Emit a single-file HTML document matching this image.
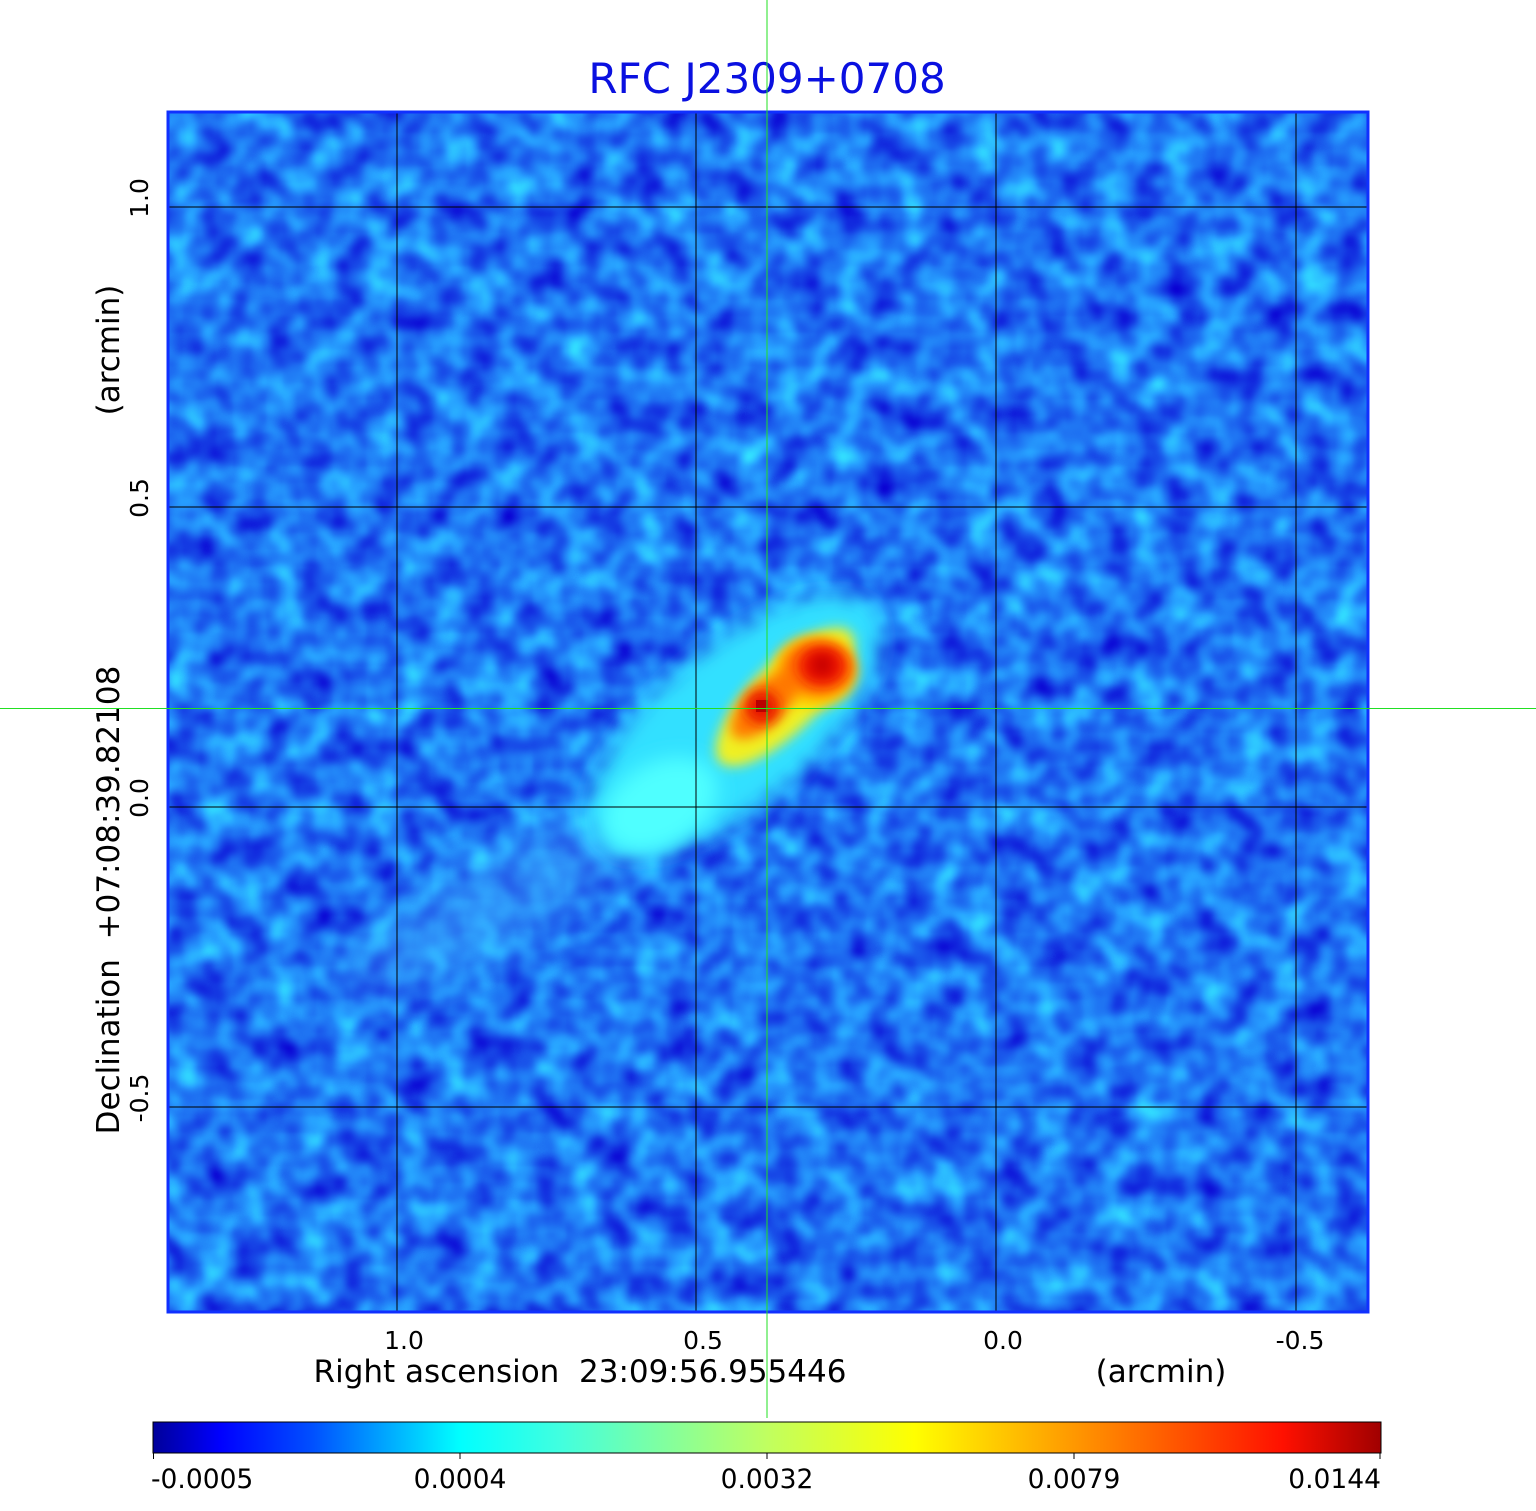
<!DOCTYPE html>
<html><head><meta charset="utf-8"><style>
html,body{margin:0;padding:0;background:#fff;}
svg{display:block;font-family:"DejaVu Sans","Liberation Sans",sans-serif;}
</style></head><body>
<svg width="1536" height="1511" viewBox="0 0 1536 1511" xmlns="http://www.w3.org/2000/svg">
<defs>
<filter id="noise" x="0" y="0" width="100%" height="100%" color-interpolation-filters="sRGB">
<feTurbulence type="fractalNoise" baseFrequency="0.03" numOctaves="2" seed="7" result="t"/>
<feColorMatrix type="matrix" values="0.2 0 0 0 0.02  1.1 0 0 0 -0.1  0.3 0 0 0 0.8  0 0 0 0 1"/>
</filter>
<filter id="b20" x="-100%" y="-100%" width="300%" height="300%"><feGaussianBlur stdDeviation="22"/></filter>
<filter id="b10" x="-100%" y="-100%" width="300%" height="300%"><feGaussianBlur stdDeviation="10"/></filter>
<filter id="b6" x="-100%" y="-100%" width="300%" height="300%"><feGaussianBlur stdDeviation="6"/></filter>
<clipPath id="plot"><rect x="168" y="112" width="1200" height="1200"/></clipPath>
<linearGradient id="jet" x1="0" x2="1" y1="0" y2="0">
<stop offset="0" stop-color="#00009a"/>
<stop offset="0.055" stop-color="#0000ff"/>
<stop offset="0.13" stop-color="#0050ff"/>
<stop offset="0.25" stop-color="#00ffff"/>
<stop offset="0.33" stop-color="#40ffe0"/>
<stop offset="0.5" stop-color="#c0ff60"/>
<stop offset="0.62" stop-color="#ffff00"/>
<stop offset="0.78" stop-color="#ff8000"/>
<stop offset="0.92" stop-color="#ff1000"/>
<stop offset="1" stop-color="#a00000"/>
</linearGradient>
</defs>

<text x="767" y="93" font-size="42" fill="#0a10e0" text-anchor="middle">RFC J2309+0708</text>

<g clip-path="url(#plot)">
<rect x="168" y="112" width="1200" height="1200" fill="#1e6ef5"/>
<rect x="168" y="112" width="1200" height="1200" filter="url(#noise)"/>
<ellipse cx="500" cy="900" rx="170" ry="40" transform="rotate(-28 500 900)" fill="#40b8ff" opacity="0.5" filter="url(#b20)"/>
<ellipse cx="735" cy="725" rx="180" ry="78" transform="rotate(-40 735 725)" fill="#30e0ff" filter="url(#b10)"/>
<ellipse cx="660" cy="805" rx="62" ry="42" transform="rotate(-30 660 805)" fill="#50ffff" filter="url(#b10)"/>
<ellipse cx="785" cy="697" rx="92" ry="34" transform="rotate(-45 785 697)" fill="#f0f020" filter="url(#b6)"/>
<ellipse cx="815" cy="672" rx="42" ry="36" fill="#ffd000" filter="url(#b6)"/>
<ellipse cx="765" cy="705" rx="44" ry="20" transform="rotate(-45 765 705)" fill="#ff7a00" filter="url(#b6)"/>
<ellipse cx="818" cy="668" rx="36" ry="28" fill="#ff7000" filter="url(#b6)"/>
<ellipse cx="822" cy="666" rx="24" ry="20" fill="#f01800" filter="url(#b6)"/>
<ellipse cx="762" cy="707" rx="17" ry="17" fill="#e81400" filter="url(#b6)"/>
<rect x="812" y="655" width="20" height="20" fill="#c80000" filter="url(#b6)"/>
<rect x="756" y="700" width="12" height="12" fill="#b80000"/>
</g>

<g stroke="#000" stroke-width="1">
<line x1="397" y1="112" x2="397" y2="1312"/>
<line x1="696" y1="112" x2="696" y2="1312"/>
<line x1="996" y1="112" x2="996" y2="1312"/>
<line x1="1296" y1="112" x2="1296" y2="1312"/>
<line x1="168" y1="207" x2="1368" y2="207"/>
<line x1="168" y1="507" x2="1368" y2="507"/>
<line x1="168" y1="807" x2="1368" y2="807"/>
<line x1="168" y1="1107" x2="1368" y2="1107"/>
</g>
<rect x="168" y="112" width="1200" height="1200" fill="none" stroke="#1030ff" stroke-width="3"/>

<g font-size="25" fill="#000" text-anchor="middle">
<text x="404" y="1349">1.0</text>
<text x="703" y="1349">0.5</text>
<text x="1003" y="1349">0.0</text>
<text x="1300" y="1349">-0.5</text>
<text x="580" y="1382" font-size="31">Right ascension&#160;&#160;23:09:56.955446</text>
<text x="1161" y="1382" font-size="31">(arcmin)</text>
<text transform="translate(148 198) rotate(-90)">1.0</text>
<text transform="translate(148 498) rotate(-90)">0.5</text>
<text transform="translate(148 798) rotate(-90)">0.0</text>
<text transform="translate(148 1098) rotate(-90)">-0.5</text>
<text transform="translate(119 350) rotate(-90)" font-size="31">(arcmin)</text>
<text transform="translate(119 900) rotate(-90)" font-size="31">Declination&#160;&#160;+07:08:39.82108</text>
</g>

<rect x="153" y="1422" width="1228" height="31" fill="url(#jet)" stroke="#000" stroke-width="1"/>
<g stroke="#000" stroke-width="1">
<line x1="153.5" y1="1453" x2="153.5" y2="1459"/>
<line x1="460" y1="1453" x2="460" y2="1459"/>
<line x1="767" y1="1453" x2="767" y2="1459"/>
<line x1="1074" y1="1453" x2="1074" y2="1459"/>
<line x1="1380" y1="1453" x2="1380" y2="1459"/>
</g>
<g font-size="26.5" fill="#000">
<text x="151" y="1488">-0.0005</text>
<text x="460" y="1488" text-anchor="middle">0.0004</text>
<text x="767" y="1488" text-anchor="middle">0.0032</text>
<text x="1074" y="1488" text-anchor="middle">0.0079</text>
<text x="1381" y="1488" text-anchor="end">0.0144</text>
</g>

<line x1="767" y1="0" x2="767" y2="1418" stroke="#22e022" stroke-width="1"/>
<line x1="0" y1="708.5" x2="1536" y2="708.5" stroke="#22e022" stroke-width="1"/>
</svg>
</body></html>
